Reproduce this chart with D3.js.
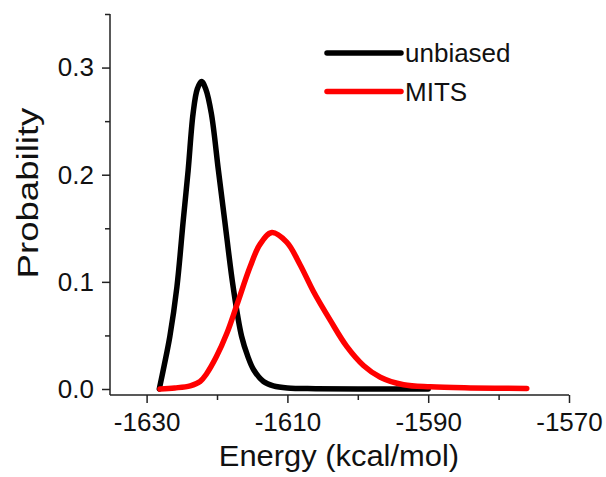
<!DOCTYPE html>
<html>
<head>
<meta charset="utf-8">
<script src="https://cdn.jsdelivr.net/npm/d3@7"></script>
<style>
  body { margin: 0; background: #fff; }
  text { font-family: Arial, "Liberation Sans", sans-serif; fill: #111; }
</style>
</head>
<body>
<svg id="chart" width="606" height="477"></svg>
<script>
// values
var seriesNames = ["unbiased", "MITS"];
var seriesColors = ["#000000", "#ff0000"];

var unbiasedEnergy = [-1628.2, -1627.5, -1626.7, -1625.7, -1624.8, -1624.1, -1623.4, -1622.8, -1622.2, -1621.6, -1620.8, -1619.8, -1618.9, -1617.7, -1616.5, -1615.6, -1614.8, -1613.4, -1612.0, -1610.0, -1606.0, -1600.0, -1590.0];
var unbiasedProb   = [0.000, 0.022, 0.049, 0.095, 0.157, 0.204, 0.257, 0.280, 0.287, 0.280, 0.257, 0.204, 0.157, 0.095, 0.049, 0.030, 0.018, 0.007, 0.003, 0.001, 0.0003, 0.0, 0.0];

var mitsEnergy = [-1628.1, -1626.0, -1623.8, -1622.4, -1621.5, -1620.1, -1618.6, -1617.2, -1615.3, -1613.9, -1612.2, -1610.1, -1608.2, -1606.3, -1603.9, -1601.6, -1599.2, -1596.8, -1593.5, -1589.7, -1584.0, -1576.0];
var mitsProb   = [0.000, 0.001, 0.003, 0.007, 0.014, 0.030, 0.052, 0.078, 0.114, 0.135, 0.146, 0.137, 0.116, 0.091, 0.064, 0.040, 0.022, 0.011, 0.004, 0.002, 0.001, 0.0005];

var xTicks = [-1630, -1610, -1590, -1570];
var xMinorTicks = [-1620, -1600, -1580];
var yTicks = [0, 0.1, 0.2, 0.3];
var yMinorTicks = [0.05, 0.15, 0.25, 0.35];

var svg = d3.select("#chart");

var x = d3.scaleLinear().domain([-1635.2, -1570]).range([110, 569]);
var y = d3.scaleLinear().domain([-0.0056, 0.35]).range([395, 14]);

function zip(xs, ys) {
  return xs.map(function(v, i) { return { e: v, p: ys[i] }; });
}
var series = [zip(unbiasedEnergy, unbiasedProb), zip(mitsEnergy, mitsProb)];

// axes
var xAxis = svg.append("g").attr("transform", "translate(0,395)")
  .call(d3.axisBottom(x).tickValues(xTicks).tickSize(8).tickPadding(7).tickFormat(function(d) { return String(d); }));
var xMinor = svg.append("g").attr("transform", "translate(0,395)")
  .call(d3.axisBottom(x).tickValues(xMinorTicks).tickSize(5).tickFormat(""));
xMinor.select(".domain").remove();

var yAxis = svg.append("g").attr("transform", "translate(110,0)")
  .call(d3.axisLeft(y).tickValues(yTicks).tickSize(8).tickPadding(8).tickFormat(d3.format(".1f")));
var yMinor = svg.append("g").attr("transform", "translate(110,0)")
  .call(d3.axisLeft(y).tickValues(yMinorTicks).tickSize(5).tickFormat(""));
yMinor.select(".domain").remove();

svg.selectAll(".domain").attr("d", function() {
  return this.parentNode === xAxis.node()
    ? "M" + x.range()[0] + ",0H" + x.range()[1]
    : "M0," + y.range()[0] + "V" + y.range()[1];
});
svg.selectAll(".domain, .tick line").attr("stroke", "#222").attr("stroke-width", 1.5);
svg.selectAll(".tick text").attr("font-size", 26).attr("font-family", "Arial, 'Liberation Sans', sans-serif").attr("fill", "#111");
xAxis.selectAll(".tick text").attr("dy", "0.8em");

// curves
var line = d3.line()
  .x(function(d) { return x(d.e); })
  .y(function(d) { return y(d.p); })
  .curve(d3.curveCatmullRom.alpha(0.5));

svg.selectAll("path.curve")
  .data(series)
  .enter()
  .append("path")
  .attr("class", "curve")
  .attr("d", line)
  .attr("fill", "none")
  .attr("stroke", function(d, i) { return seriesColors[i]; })
  .attr("stroke-width", 5.5)
  .attr("stroke-linecap", "round")
  .attr("stroke-linejoin", "round");

// legend
var legend = svg.selectAll("g.legend")
  .data(seriesNames)
  .enter()
  .append("g")
  .attr("class", "legend")
  .attr("transform", function(d, i) { return "translate(327," + (53 + i * 38.5) + ")"; });
legend.append("line")
  .attr("x1", 0).attr("x2", 74).attr("y1", 0).attr("y2", 0)
  .attr("stroke", function(d, i) { return seriesColors[i]; })
  .attr("stroke-width", 5.5)
  .attr("stroke-linecap", "round");
legend.append("text")
  .attr("x", 78).attr("y", 0).attr("dy", "0.36em")
  .attr("font-size", 26)
  .text(function(d) { return d; });

// titles
svg.append("text")
  .attr("x", 339).attr("y", 466)
  .attr("text-anchor", "middle")
  .attr("font-size", 30)
  .attr("transform", "translate(339,466) scale(1.03,1) translate(-339,-466)")
  .text("Energy (kcal/mol)");
svg.append("text")
  .attr("transform", "translate(38,193) rotate(-90) scale(1.22,1)")
  .attr("text-anchor", "middle")
  .attr("font-size", 30)
  .text("Probability");
</script>
</body>
</html>
